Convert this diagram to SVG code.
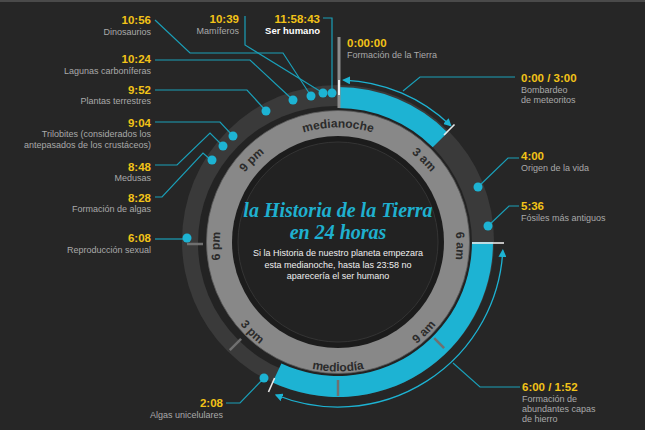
<svg xmlns="http://www.w3.org/2000/svg" width="645" height="430" viewBox="0 0 645 430">
<style>
.t{font-family:"Liberation Sans",Arial,sans-serif;font-weight:bold;font-size:11.5px;fill:#f2c318}
.d{font-family:"Liberation Sans",Arial,sans-serif;font-size:9px;fill:#a9a9a9}
.e{text-anchor:end}
.hr{font-family:"Liberation Sans",Arial,sans-serif;font-weight:bold;font-size:12px;fill:#2b2b2b}
.ld{fill:none;stroke:#1a9fb8;stroke-width:1.2}
.dot{fill:#1db3d3}
.tk{stroke:#707070;stroke-width:2.5}
.wt{stroke:#e8e8e8;stroke-width:1.6}
.arc{fill:none;stroke:#1db3d3;stroke-width:1.3}
</style>
<defs>
<marker id="ah" viewBox="0 0 10 10" refX="8" refY="5" markerWidth="8" markerHeight="8" markerUnits="userSpaceOnUse" orient="auto-start-reverse"><path d="M0,0 L10,5 L0,10 z" fill="#1db3d3"/></marker>
<path id="topArc" d="M235.4,305.25 A118.5,118.5 0 1 1 440.6,305.25"/>
<path id="botArc" d="M229.3,183.25 A125.5,125.5 0 1 0 446.7,183.25"/>
</defs>
<rect width="645" height="430" fill="#262626"/>
<line x1="0" y1="1" x2="645" y2="1" stroke="#4a4a4a" stroke-width="2"/>

<g id="clock">
<circle cx="338" cy="241" r="156" fill="#3a3a3a"/>
<circle cx="335" cy="243" r="137" fill="#232323"/>
<path d="M338,87 A155,155 0 0 1 447.6,132.4 L432.75,147.25 A134,134 0 0 0 338,108 Z" fill="#1db3d3"/>
<path d="M493,242 A155,155 0 0 1 272.5,382.5 L281.4,363.4 A134,134 0 0 0 472,242 Z" fill="#1db3d3"/>
<circle cx="338" cy="242" r="131.5" fill="#888888" stroke="#5a5a5a" stroke-width="0.8"/>
<circle cx="338" cy="242" r="106" fill="#1c1c1c"/>
<circle cx="338" cy="242" r="100" fill="#222222" stroke="#343434" stroke-width="1"/>
<line class="tk" x1="241.1" y1="338.9" x2="229.8" y2="350.2"/>
<line class="tk" x1="434.2" y1="338.2" x2="444.1" y2="348.1"/>
<line class="tk" x1="338" y1="380" x2="338" y2="396"/>
<line class="tk" x1="187" y1="244" x2="203" y2="244"/>
<line x1="339" y1="37" x2="339" y2="108" stroke="#8c8c8c" stroke-width="3"/>
<line x1="339" y1="80" x2="339" y2="95" stroke="#f0f0f0" stroke-width="2"/>
<line class="wt" x1="444" y1="135" x2="454.5" y2="124.5"/>
<line class="wt" x1="472" y1="243" x2="504" y2="243"/>
<line class="wt" x1="274.6" y1="378" x2="268.5" y2="392"/>
</g>

<g id="hours">
<text class="hr"><textPath href="#topArc" startOffset="50%" text-anchor="middle">medianoche</textPath></text>
<text class="hr"><textPath href="#topArc" startOffset="68.75%" text-anchor="middle">3 am</textPath></text>
<text class="hr"><textPath href="#topArc" startOffset="87.5%" text-anchor="middle">6 am</textPath></text>
<text class="hr"><textPath href="#topArc" startOffset="31.25%" text-anchor="middle">9 pm</textPath></text>
<text class="hr"><textPath href="#topArc" startOffset="12.5%" text-anchor="middle">6 pm</textPath></text>
<text class="hr"><textPath href="#botArc" startOffset="50%" text-anchor="middle">mediodía</textPath></text>
<text class="hr"><textPath href="#botArc" startOffset="68.75%" text-anchor="middle">9 am</textPath></text>
<text class="hr"><textPath href="#botArc" startOffset="31.25%" text-anchor="middle">3 pm</textPath></text>
</g>

<g id="title">
<text x="338" y="216.5" text-anchor="middle" font-family="Liberation Serif, Times New Roman, serif" font-weight="bold" font-style="italic" font-size="20" fill="#1fb0cf">la Historia de la Tierra</text>
<text x="338" y="239" text-anchor="middle" font-family="Liberation Serif, Times New Roman, serif" font-weight="bold" font-style="italic" font-size="20" fill="#1fb0cf">en 24 horas</text>
<text x="338" y="256" text-anchor="middle" font-family="Liberation Sans, Arial, sans-serif" font-size="9" fill="#f0f0f0">Si la Historia de nuestro planeta empezara</text>
<text x="338" y="267.5" text-anchor="middle" font-family="Liberation Sans, Arial, sans-serif" font-size="9" fill="#f0f0f0">esta medianoche, hasta las 23:58 no</text>
<text x="338" y="279" text-anchor="middle" font-family="Liberation Sans, Arial, sans-serif" font-size="9" fill="#f0f0f0">aparecería el ser humano</text>
</g>

<g id="connectors">
<path class="ld" d="M155,20 L190,53 L283,53 L311,96"/>
<path class="ld" d="M245,16 L245,45 L323,93"/>
<path class="ld" d="M323,18 L332,18 L332,93"/>
<path class="ld" d="M155,60 L250,60 L293,100"/>
<path class="ld" d="M155,90 L247,90 L266,111"/>
<path class="ld" d="M155,122 L220,122 L233,136"/>
<path class="ld" d="M155,165 L177,165 L210,133 L223,146"/>
<path class="ld" d="M155,197 L162,197 L203,153 L212,161"/>
<path class="ld" d="M155,239 L187,239"/>
<path class="ld" d="M403,91 L420,77 L515,77"/>
<path class="ld" d="M478,187 L508,158 L519,158"/>
<path class="ld" d="M488,226 L509,206 L519,206"/>
<path class="ld" d="M453,363 L480,387 L520,387"/>
<path class="ld" d="M264,378 L240,403 L226,403"/>
<path class="arc" d="M343.65,80.1 A162,162 0 0 1 450.5,125.5" marker-start="url(#ah)" marker-end="url(#ah)"/>
<path class="arc" d="M502.8,250.6 A165,165 0 0 1 276.2,395" marker-start="url(#ah)" marker-end="url(#ah)"/>
</g>

<g id="n-dinosaurios"><circle class="dot" cx="311" cy="96" r="4.5"/><text class="t e" x="151" y="24">10:56</text><text class="d e" x="151" y="34.5">Dinosaurios</text></g>
<g id="n-mamiferos"><circle class="dot" cx="323" cy="93" r="4.5"/><text class="t e" x="239" y="23">10:39</text><text class="d e" x="239" y="33.5">Mamíferos</text></g>
<g id="n-ser-humano"><circle class="dot" cx="332" cy="93" r="4.5"/><text class="t e" x="320" y="23">11:58:43</text><text class="e" x="320" y="33.5" font-family="Liberation Sans, Arial, sans-serif" font-weight="bold" font-size="9.5" fill="#ffffff">Ser humano</text></g>
<g id="n-formacion-tierra"><text class="t" x="347" y="47">0:00:00</text><text class="d" x="347" y="58">Formación de la Tierra</text></g>
<g id="n-lagunas"><circle class="dot" cx="293" cy="100" r="4.5"/><text class="t e" x="151" y="63">10:24</text><text class="d e" x="151" y="73.5">Lagunas carboníferas</text></g>
<g id="n-plantas"><circle class="dot" cx="266" cy="111" r="4.5"/><text class="t e" x="151" y="94">9:52</text><text class="d e" x="151" y="104">Plantas terrestres</text></g>
<g id="n-trilobites"><circle class="dot" cx="233" cy="136" r="4.5"/><text class="t e" x="151" y="127">9:04</text><text class="d e" x="151" y="137">Trilobites (considerados los</text><text class="d e" x="151" y="147.5">antepasados de los crustáceos)</text></g>
<g id="n-medusas"><circle class="dot" cx="223" cy="146" r="4.5"/><text class="t e" x="151" y="171">8:48</text><text class="d e" x="151" y="181">Medusas</text></g>
<g id="n-algas"><circle class="dot" cx="212" cy="160" r="4.5"/><text class="t e" x="151" y="202">8:28</text><text class="d e" x="151" y="212">Formación de algas</text></g>
<g id="n-reproduccion"><circle class="dot" cx="187" cy="238" r="4.5"/><text class="t e" x="151" y="242">6:08</text><text class="d e" x="151" y="252.5">Reproducción sexual</text></g>
<g id="n-bombardeo"><text class="t" x="521" y="82">0:00 / 3:00</text><text class="d" x="521" y="93">Bombardeo</text><text class="d" x="521" y="103">de meteoritos</text></g>
<g id="n-origen"><circle class="dot" cx="478" cy="187" r="4.5"/><text class="t" x="521" y="160">4:00</text><text class="d" x="521" y="171">Origen de la vida</text></g>
<g id="n-fosiles"><circle class="dot" cx="488" cy="226" r="4.5"/><text class="t" x="521" y="210">5:36</text><text class="d" x="521" y="220.5">Fósiles más antiguos</text></g>
<g id="n-hierro"><text class="t" x="522" y="391">6:00 / 1:52</text><text class="d" x="522" y="402">Formación de</text><text class="d" x="522" y="412">abundantes capas</text><text class="d" x="522" y="421.5">de hierro</text></g>
<g id="n-algas-unicelulares"><circle class="dot" cx="264" cy="378" r="4.5"/><text class="t e" x="223" y="407">2:08</text><text class="d e" x="223" y="417.5">Algas unicelulares</text></g>
</svg>
